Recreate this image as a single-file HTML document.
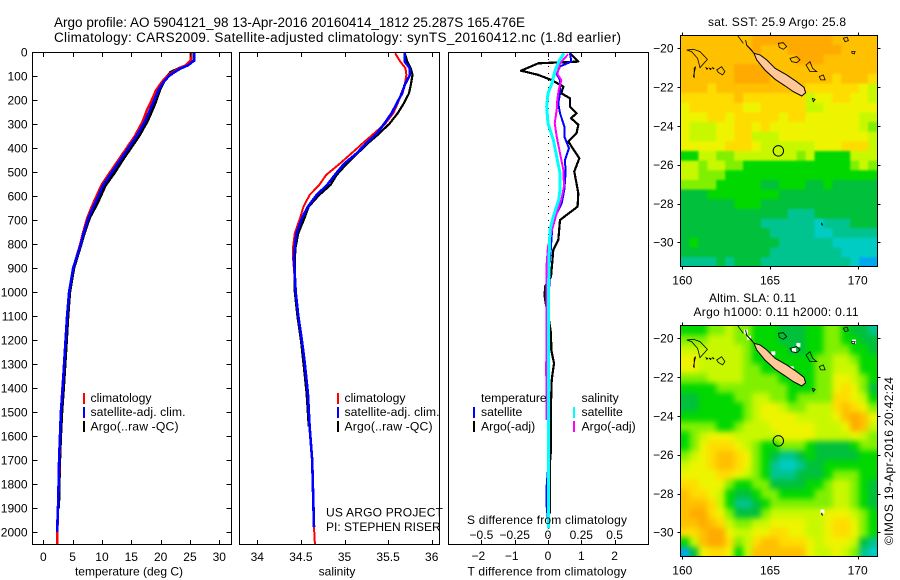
<!DOCTYPE html>
<html lang="en">
<head>
<meta charset="utf-8">
<title>Argo profile 5904121_98</title>
<style>
html,body{margin:0;padding:0;background:#fff}
svg{display:block}
text{font-family:"Liberation Sans",sans-serif;font-size:12px;fill:#000}
.frame{fill:none;stroke:#000;stroke-width:1;shape-rendering:crispEdges}
.ttl{font-size:13.5px}
.leg{font-size:12.2px}
</style>
</head>
<body>
<svg id="chart" xmlns="http://www.w3.org/2000/svg" width="900" height="580" viewBox="0 0 900 580">
<defs>
<filter id="sstBlur" x="-10%" y="-10%" width="120%" height="120%" color-interpolation-filters="sRGB"><feGaussianBlur stdDeviation="1.1"/></filter>
<filter id="slaBlur" x="-10%" y="-10%" width="120%" height="120%" color-interpolation-filters="sRGB"><feGaussianBlur stdDeviation="2.8"/></filter>
<clipPath id="clipMap1"><rect x="680.5" y="35.5" width="197" height="231"/></clipPath>
<clipPath id="clipMap2"><rect x="680.5" y="325.5" width="197" height="231"/></clipPath>
<clipPath id="clipT"><rect x="32.5" y="52" width="199" height="493"/></clipPath>
<clipPath id="clipS"><rect x="239.5" y="52" width="200" height="493"/></clipPath>
<clipPath id="clipD"><rect x="448.5" y="52" width="200" height="493"/></clipPath>
</defs>

<text class="ttl" x="54" y="27" textLength="471" lengthAdjust="spacing">Argo profile: AO 5904121_98 13-Apr-2016 20160414_1812 25.287S 165.476E</text>
<text class="ttl" x="54" y="42" textLength="567" lengthAdjust="spacing">Climatology: CARS2009. Satellite-adjusted climatology: synTS_20160412.nc (1.8d earlier)</text>

<g id="panelT"></g>
<g id="panelS"></g>
<g id="panelD"></g>
<g id="map1"></g>
<g id="map2"></g>

<rect class="frame" x="32.5" y="52.5" width="199" height="492"/>
<rect class="frame" x="239.5" y="52.5" width="200" height="492"/>
<rect class="frame" x="448.5" y="52.5" width="200" height="492"/>
<rect class="frame" x="680.5" y="35.5" width="197" height="231"/>
<rect class="frame" x="680.5" y="325.5" width="197" height="231"/>

<text x="129" y="575.5" text-anchor="middle">temperature (deg C)</text>
<text x="337" y="575.5" text-anchor="middle">salinity</text>
<text x="547" y="575.5" text-anchor="middle" textLength="159" lengthAdjust="spacing">T difference from climatology</text>
<text x="547" y="524" text-anchor="middle" textLength="160" lengthAdjust="spacing">S difference from climatology</text>

<g>
<rect x="83" y="393" width="2" height="11" fill="#f00"/>
<text class="leg" x="90.5" y="402">climatology</text>
<rect x="83" y="407" width="2" height="11" fill="#00f"/>
<text class="leg" x="90.5" y="416" textLength="95" lengthAdjust="spacing">satellite-adj. clim.</text>
<rect x="83" y="421" width="2" height="11" fill="#000"/>
<text class="leg" x="90.5" y="430.5" textLength="88" lengthAdjust="spacing">Argo(..raw -QC)</text>
</g>
<g>
<rect x="337" y="393" width="2" height="11" fill="#f00"/>
<text class="leg" x="344.5" y="402">climatology</text>
<rect x="337" y="407" width="2" height="11" fill="#00f"/>
<text class="leg" x="344.5" y="416" textLength="95" lengthAdjust="spacing">satellite-adj. clim.</text>
<rect x="337" y="421" width="2" height="11" fill="#000"/>
<text class="leg" x="344.5" y="430.5" textLength="88" lengthAdjust="spacing">Argo(..raw -QC)</text>
</g>
<g>
<text class="leg" x="481" y="402">temperature</text>
<rect x="473" y="407" width="2" height="11" fill="#00f"/>
<text class="leg" x="481" y="416">satellite</text>
<rect x="473" y="421" width="2" height="11" fill="#000"/>
<text class="leg" x="481" y="430.5">Argo(-adj)</text>
<text class="leg" x="581.5" y="402">salinity</text>
<rect x="573" y="407" width="2" height="11" fill="#0ff"/>
<text class="leg" x="581.5" y="416">satellite</text>
<rect x="573" y="421" width="2" height="11" fill="#f0f"/>
<text class="leg" x="581.5" y="430.5">Argo(-adj)</text>
</g>

<text x="326" y="516.5" textLength="117" lengthAdjust="spacing">US ARGO PROJECT</text>
<text x="326" y="531">PI: STEPHEN RISER</text>

<text x="708" y="26" textLength="138" lengthAdjust="spacing">sat. SST: 25.9 Argo: 25.8</text>
<text x="709" y="302" textLength="87" lengthAdjust="spacing">Altim. SLA: 0.11</text>
<text x="693.5" y="316" textLength="165" lengthAdjust="spacing">Argo h1000: 0.11 h2000: 0.11</text>
<text transform="translate(893,545) rotate(-90)" textLength="168" lengthAdjust="spacing">©IMOS 19-Apr-2016 20:42:24</text>
</svg>

<script>
/* ---- temperature panel data ---- */
const depthTicks = [0,100,200,300,400,500,600,700,800,900,1000,1100,1200,1300,1400,1500,1600,1700,1800,1900,2000];
const tempTicks = [0,5,10,15,20,25,30];
const tempDepths = [0,35,55,70,85,100,125,160,210,240,290,350,400,450,500,555,630,690,760,800,900,1000,1100,1200,1300,1400,1500,1600,1700,1800,1900,2000,2050];
const tempClim = [25.1,25.1,24.3,23.0,22.0,21.1,20.2,19.2,18.3,17.7,16.9,15.6,14.2,12.8,11.4,9.9,8.5,7.5,6.7,6.3,5.1,4.4,4.05,3.8,3.55,3.25,3.0,2.85,2.75,2.65,2.5,2.4,2.4];
const tempSat = [25.7,25.7,24.7,23.3,22.3,21.4,20.5,19.6,18.75,18.2,17.3,15.9,14.5,13.1,11.7,10.2,8.8,7.7,6.8,6.4,5.1,4.4,4.05,3.8,3.55,3.3,3.0,2.85,2.7,2.6,2.5,2.35,null];
const tempArgo = [25.7,25.7,24.5,23.0,21.7,21.2,20.5,19.8,19.1,18.6,17.7,16.3,14.9,13.5,12.2,10.6,9.2,7.9,6.9,6.45,5.2,4.5,4.2,3.95,3.7,3.45,3.15,2.95,2.8,2.7,2.6,null,null];

/* ---- salinity panel data ---- */
const salTicks = [34,34.5,35,35.5,36];
const salDepths = [5,40,68,96,137,172,214,255,297,339,380,422,464,512,554,596,644,693,755,811,860,1000,1100,1200,1283,1422,1560,1700,1840,1980,2050];
const salClim = [35.58,35.64,35.70,35.71,35.69,35.65,35.61,35.56,35.47,35.34,35.21,35.08,34.95,34.79,34.71,34.60,34.53,34.49,34.43,34.41,34.41,34.44,34.47,34.51,34.54,34.58,34.60,34.63,34.64,34.65,34.66];
const salSat = [35.69,35.69,35.75,35.75,35.69,35.66,35.60,35.54,35.46,35.37,35.25,35.14,35.00,34.89,34.80,34.68,34.58,34.51,34.45,34.43,34.42,34.44,34.47,34.51,34.54,34.58,34.60,34.63,34.64,34.65,null];
const salArgo = [35.69,35.72,35.76,35.78,35.76,35.74,35.68,35.61,35.52,35.40,35.27,35.15,35.03,34.91,34.84,34.71,34.59,34.54,34.47,34.44,34.43,34.43,34.46,34.50,34.525,34.565,34.59,null,null,null,null];

/* ---- difference panel data ---- */
const tDiffTicks = [-2,-1,0,1,2];
const sDiffTicks = [-0.5,-0.25,0,0.25,0.5];
const tArgoDepths = [5,40,47,78,95,117,144,172,193,228,255,276,303,338,373,443,498,588,644,700,783,825,936,977,1019,1054,1090,1172,1242,1297,1367,1464,1658,1707,1922];
const tArgoDiff = [0.66,0.91,-0.29,-0.81,-0.3,0.11,0.46,0.40,0.66,0.66,0.86,0.69,0.91,0.86,0.61,0.94,0.79,0.91,0.89,0.36,0.31,0.16,0.09,-0.09,-0.10,-0.06,0,0.09,0.1,0.18,0.11,0.09,0.09,0.06,0.05];
const tSatDepths = [5,40,60,92,117,172,214,255,310,352,401,450,505,574,630,672,727,811,880,1100,1700,1804,1894,1985];
const tSatDiff = [0.66,0.7,0.36,0.26,0.36,0.36,0.31,0.36,0.49,0.49,0.63,0.51,0.53,0.49,0.41,0.26,0.13,0.09,0.05,0.02,0.02,-0.04,-0.04,0.02];
const sArgoDepths = [10,47,92,117,158,200,241,297,352,422,491,560,616,672,741,811,880,1019,1117,1228,1325,1394,1533];
const sArgoDiff = [0.15,0.09,0.07,0.10,0.08,0.07,0.065,0.05,0.065,0.09,0.115,0.12,0.10,0.065,0.03,0,-0.01,-0.01,-0.01,-0.01,-0.015,-0.01,-0.01];
const sSatDepths = [5,40,82,130,172,228,297,366,436,505,574,616,686,741,880,1100,1985];
const sSatDiff = [0.12,0.08,0.05,0.03,0,-0.01,0,0.04,0.065,0.09,0.09,0.08,0.04,0.015,0.007,0.003,0.003];

/* ---- map data ---- */
const lonTicks = [160,165,170];
const latTicks = [-20,-22,-24,-26,-28,-30];
const floatLon = 165.476;
const floatLat = -25.287;
/* colour levels, one row per half degree of latitude from north to south */
const levelColors = ['#00a8f0','#00ccc4','#00c490','#00c03c','#00d800','#80f000','#c8f800','#eef400','#ffdc00','#ffc000','#ffaa00'];
const sstLevels = [
[9,9,9,9,9,9,9,9,10,10,10,10,10,10,10,10,10,9,9,9,9,9],
[9,9,9,9,9,9,9,9,10,9,9,9,10,10,10,10,10,10,9,9,9,9],
[9,9,9,9,9,9,9,9,9,9,9,9,9,10,10,10,9,9,9,9,9,9],
[9,9,9,9,9,9,10,10,10,10,9,9,9,9,9,9,9,9,9,9,9,9],
[9,9,9,9,9,9,10,10,10,10,9,9,9,9,9,9,9,8,9,9,9,8],
[9,9,9,8,9,9,9,9,9,9,9,9,9,9,8,8,8,8,8,8,7,6],
[8,8,8,8,8,8,9,8,8,8,8,8,8,8,6,7,7,8,8,7,7,6],
[7,8,8,8,8,8,8,7,7,8,8,8,8,8,6,6,7,7,7,7,7,7],
[7,7,7,8,8,7,8,8,8,8,8,7,8,8,7,7,7,7,7,7,6,6],
[7,6,6,6,7,7,8,8,7,8,7,7,7,7,7,7,7,7,7,7,6,5],
[7,6,6,6,7,7,8,8,6,6,6,7,7,7,7,7,7,7,7,7,7,6],
[7,7,7,7,7,8,8,8,7,6,6,6,6,6,6,7,7,7,8,8,8,6],
[4,4,6,6,5,5,6,6,6,6,6,6,6,5,6,4,4,4,4,6,6,6],
[6,6,5,6,6,5,5,4,4,4,4,4,4,4,4,4,4,4,4,5,6,5],
[6,6,5,5,5,4,4,4,4,4,4,4,4,4,4,4,4,4,4,4,4,4],
[5,5,5,5,4,4,4,4,4,3,3,4,4,4,3,3,4,3,3,3,3,3],
[3,3,3,4,4,4,4,4,4,4,4,3,3,3,3,3,3,3,3,3,3,3],
[3,3,3,3,3,3,4,4,4,3,3,3,3,3,3,3,3,3,3,3,3,3],
[3,3,3,3,3,3,3,3,3,3,3,3,2,2,2,3,3,3,3,3,3,3],
[3,3,3,3,3,3,3,3,3,2,2,2,2,2,2,1,2,2,2,3,3,3],
[3,3,3,3,3,3,3,3,3,3,2,2,2,2,2,1,1,2,2,2,2,2],
[3,4,3,3,3,3,3,3,3,3,3,2,2,2,2,2,2,1,1,1,1,1],
[3,3,3,3,3,3,3,3,3,3,2,2,2,2,2,2,2,2,1,1,1,1],
[2,2,2,2,3,2,3,3,3,2,2,2,2,2,2,2,2,2,2,1,0,0]
];
const slaLevels = [
[4,4,4,5,5,6,5,5,4,4,4,3,3,3,4,4,5,5,4,3,3,2],
[5,5,5,6,6,6,5,5,4,4,4,3,3,3,4,4,5,5,4,4,3,3],
[6,6,6,6,6,6,6,5,4,4,4,4,3,3,4,4,5,5,5,4,4,3],
[7,7,6,6,6,6,6,5,4,4,4,4,4,4,4,5,5,6,6,5,4,4],
[7,7,6,6,6,6,6,5,5,4,4,4,4,4,4,5,5,6,6,6,4,4],
[5,5,5,6,6,6,6,5,5,5,5,4,4,4,4,5,5,7,7,6,5,4],
[4,4,4,4,5,5,5,5,5,5,5,5,4,4,4,5,5,7,8,7,5,3],
[3,3,4,4,4,4,5,5,6,6,5,5,4,5,5,5,5,8,8,7,6,4],
[3,3,4,4,4,4,4,5,6,7,7,6,5,5,6,6,6,8,9,8,7,5],
[4,4,4,4,4,4,4,5,6,7,7,7,7,6,6,6,6,7,9,10,9,7],
[5,5,5,5,4,4,5,6,6,6,7,7,7,7,7,6,6,6,7,10,9,6],
[4,5,6,7,7,7,6,6,6,6,6,7,7,7,7,6,6,6,6,7,6,5],
[4,5,7,8,8,8,7,6,5,4,4,5,5,5,4,3,3,3,3,4,5,5],
[5,6,7,8,9,9,8,7,5,4,3,2,2,3,4,3,3,3,3,3,4,4],
[6,7,7,8,9,9,8,7,5,4,2,1,1,2,3,3,4,4,4,4,4,4],
[7,7,7,7,8,8,7,6,5,4,2,2,2,3,3,3,4,5,5,5,4,4],
[8,8,7,7,7,5,4,4,5,5,3,3,3,3,4,4,5,6,6,5,4,3],
[9,8,8,7,6,4,3,3,4,5,5,4,4,4,4,5,5,6,6,5,4,3],
[9,9,9,8,6,4,2,2,3,4,5,5,5,5,5,5,5,6,6,5,4,3],
[9,10,10,8,7,5,3,3,3,5,6,6,6,6,6,6,7,7,7,6,5,4],
[9,9,10,9,8,6,5,5,6,6,7,7,7,7,6,6,7,8,8,7,5,4],
[8,8,9,10,10,7,6,6,7,7,8,8,7,7,6,6,7,8,8,7,5,4],
[4,6,9,10,10,8,5,6,8,9,9,8,8,8,7,6,7,7,7,6,3,2],
[0,3,7,8,8,7,4,6,9,9,9,9,9,9,7,6,6,7,6,5,2,1]
];
const mainIslandLon = [164.09,164.43,164.81,165.29,165.95,166.52,166.94,167.03,166.81,166.33,165.86,165.29,164.71,164.24];
const mainIslandLat = [-20.26,-20.34,-20.60,-21.03,-21.37,-21.72,-22.01,-22.29,-22.46,-22.23,-21.94,-21.60,-21.12,-20.60];
const outlineLons = [
[160.25,160.63,161.01,161.43,161.01,160.87,160.53],
[160.68,160.76,160.63,160.68],
[161.96,162.24,162.43,162.30,162.05],
[165.48,165.76,165.95,165.76,165.53],
[166.14,166.52,166.71,166.52,166.24],
[167.05,167.28,167.43,167.66,167.28],
[167.81,168.04,168.14,167.89],
[169.18,169.40,169.47,169.28],
[169.66,169.85,169.80,169.68],
[167.41,167.57,167.47],
[163.14,163.48,163.48],
[163.61,163.67,163.95,164.09,163.95,163.67],
[167.95,167.99,167.95],
[161.35,161.45,161.40],
[161.55,161.65,161.60],
[161.72,161.80,161.76]
];
const outlineLats = [
[-20.09,-20.05,-20.17,-20.57,-21.00,-20.52,-20.17],
[-21.03,-20.95,-21.46,-21.50],
[-21.12,-20.95,-21.20,-21.37,-21.25],
[-19.74,-19.71,-19.91,-20.05,-19.95],
[-20.52,-20.43,-20.60,-20.74,-20.69],
[-20.86,-20.69,-21.03,-21.20,-21.20],
[-21.46,-21.37,-21.63,-21.63],
[-19.48,-19.43,-19.60,-19.66],
[-20.17,-20.17,-20.29,-20.26],
[-22.58,-22.63,-22.75],
[-19.33,-19.74,-19.74],
[-19.57,-19.83,-20.09,-20.26,-20.12,-19.85],
[-28.99,-29.11,-29.08],
[-21.00,-21.04,-21.08],
[-21.03,-21.06,-21.10],
[-21.00,-21.03,-21.06]
];
const missingLons = [163.63,163.80,166.62,166.37,169.79,167.99,165.19,165.61,166.24];
const missingLats = [-19.66,-19.97,-20.34,-20.60,-20.17,-28.93,-20.77,-21.38,-21.55];

/* ---- axis functions ---- */
const depthY = d => 52 + d * 0.24;
const tempX = t => 43.3 + t * 5.867;
const salX = s => 257.3 + (s - 34) * 87.2;
const tDiffX = v => 548 + v * 33.3;
const sDiffX = v => 548 + v * 133.2;
const lonX = lon => 682.3 + (lon - 160) * 17.54;
const latY = lat => 48.3 + (-20 - lat) * 19.4;

const NS = 'http://www.w3.org/2000/svg';
function make(tag, attrs, parent) {
  const el = document.createElementNS(NS, tag);
  for (const k in attrs) el.setAttribute(k, attrs[k]);
  parent.appendChild(el);
  return el;
}
function tickLine(parent, x1, y1, x2, y2, name) {
  const el = make('line', {x1, y1, x2, y2, stroke: '#000', 'stroke-width': 1, 'shape-rendering': 'crispEdges'}, parent);
  
  
}
function label(parent, x, y, str, anchor, name) {
  const el = make('text', {x, y, 'text-anchor': anchor}, parent);
  el.textContent = str;
  
  
}
function profile(parent, depths, values, xf, color, width, name, clip) {
  const pts = [];
  depths.forEach((d, i) => {
    if (values[i] !== null) pts.push(xf(values[i]).toFixed(1) + ',' + depthY(d).toFixed(1));
  });
  const el = make('polyline', {points: pts.join(' '), fill: 'none', stroke: color, 'stroke-width': width, 'stroke-linejoin': 'round', 'shape-rendering': 'crispEdges', 'clip-path': 'url(#' + clip + ')'}, parent);
  
  
}
const fmtNeg = v => String(v).replace('-', '\u2212');

/* ---- temperature panel ---- */
const panelT = document.getElementById('panelT');
profile(panelT, tempDepths, tempArgo, tempX, '#000', 3, 'temperature-argo-line', 'clipT');
profile(panelT, tempDepths, tempClim, tempX, '#f00', 2.4, 'temperature-climatology-line', 'clipT');
profile(panelT, tempDepths, tempSat, tempX, '#00f', 2.6, 'temperature-satellite-line', 'clipT');
depthTicks.forEach(d => {
  const y = Math.round(depthY(d)) + 0.5;
  if (d > 0) {
    tickLine(panelT, 32.5, y, 37.5, y, 'depth-tick-left');
    tickLine(panelT, 226.5, y, 231.5, y, 'depth-tick-right');
  }
  label(panelT, 27.5, depthY(d) + 4.4, String(d), 'end', 'depth-tick-label');
});
tempTicks.forEach(t => {
  const x = Math.round(tempX(t)) + 0.5;
  tickLine(panelT, x, 52.5, x, 57, 'temperature-top-tick');
  tickLine(panelT, x, 540, x, 544.5, 'temperature-bottom-tick');
  label(panelT, tempX(t), 561, String(t), 'middle', 'temperature-tick-label');
});

/* ---- salinity panel ---- */
const panelS = document.getElementById('panelS');
profile(panelS, salDepths, salArgo, salX, '#000', 2.2, 'salinity-argo-line', 'clipS');
profile(panelS, salDepths, salClim, salX, '#f00', 2, 'salinity-climatology-line', 'clipS');
profile(panelS, salDepths, salSat, salX, '#00f', 2.6, 'salinity-satellite-line', 'clipS');
salTicks.forEach(s => {
  const x = Math.round(salX(s)) + 0.5;
  tickLine(panelS, x, 52.5, x, 57, 'salinity-top-tick');
  tickLine(panelS, x, 540, x, 544.5, 'salinity-bottom-tick');
  label(panelS, salX(s), 561, String(s), 'middle', 'salinity-tick-label');
});

/* ---- difference panel ---- */
const panelD = document.getElementById('panelD');
const zeroLine = make('line', {x1: 548.5, y1: 52, x2: 548.5, y2: 545, stroke: '#000', 'stroke-width': 1, 'stroke-dasharray': '1 6', 'shape-rendering': 'crispEdges'}, panelD);


profile(panelD, tArgoDepths, tArgoDiff, tDiffX, '#000', 2.2, 't-argo-difference-line', 'clipD');
profile(panelD, tSatDepths, tSatDiff, tDiffX, '#00f', 2, 't-satellite-difference-line', 'clipD');
profile(panelD, sArgoDepths, sArgoDiff, sDiffX, '#f0f', 2, 's-argo-difference-line', 'clipD');
profile(panelD, sSatDepths, sSatDiff, sDiffX, '#0ff', 3, 's-satellite-difference-line', 'clipD');
tDiffTicks.forEach(v => {
  const x = Math.round(tDiffX(v)) + 0.5;
  tickLine(panelD, x, 52.5, x, 57, 't-difference-top-tick');
  tickLine(panelD, x, 540, x, 544.5, 't-difference-bottom-tick');
  label(panelD, tDiffX(v) - (v < 0 ? 3 : 0), 560, fmtNeg(v), 'middle', 't-difference-tick-label');
});
sDiffTicks.forEach(v => {
  label(panelD, sDiffX(v), 539, fmtNeg(v), 'middle', 's-difference-tick-label');
});

/* ---- maps ---- */
function drawMap(root, levels, offset, clipId, blurId, isSla) {
  const clipG = make('g', {'clip-path': 'url(#' + clipId + ')'}, root);
  
  
  const cellG = make('g', {filter: 'url(#' + blurId + ')'}, clipG);
  
  
  const dLon = 11.2 / 22, dLat = 11.93 / 24;
  levels.forEach((row, r) => {
    row.forEach((lv, c) => {
      let x0 = lonX(159.9 + c * dLon), x1 = lonX(159.9 + (c + 1) * dLon);
      let y0 = latY(-19.33 - r * dLat) + offset, y1 = latY(-19.33 - (r + 1) * dLat) + offset;
      if (c === 0) x0 -= 14;
      if (c === row.length - 1) x1 += 14;
      if (r === 0) y0 -= 14;
      if (r === levels.length - 1) y1 += 14;
      const cell = make('rect', {x: x0, y: y0, width: x1 - x0 + 0.5, height: y1 - y0 + 0.5, fill: levelColors[lv]}, cellG);
      
      
    });
  });
  const overlay = make('g', {transform: 'translate(0,' + offset + ')'}, clipG);
  
  
  if (isSla) {
    missingLons.forEach((lon, i) => {
      const gap = make('rect', {x: lonX(lon) - 2, y: latY(missingLats[i]) - 2, width: 4, height: 4, fill: '#fff'}, overlay);
      
      
    });
  }
  outlineLons.forEach((lons, i) => {
    const pts = lons.map((lon, j) => lonX(lon).toFixed(1) + ',' + latY(outlineLats[i][j]).toFixed(1)).join(' ');
    const coast = make('polygon', {points: pts, fill: 'none', stroke: '#000', 'stroke-width': 0.8}, overlay);
    
    
  });
  const mainPts = mainIslandLon.map((lon, j) => lonX(lon).toFixed(1) + ',' + latY(mainIslandLat[j]).toFixed(1)).join(' ');
  const island = make('polygon', {points: mainPts, fill: '#ffc896', stroke: '#000', 'stroke-width': 1}, overlay);
  
  
  const marker = make('circle', {cx: lonX(floatLon), cy: latY(floatLat), r: 5.2, fill: 'none', stroke: '#000', 'stroke-width': 1}, overlay);
  
  

  lonTicks.forEach(lon => {
    const x = Math.round(lonX(lon)) + 0.5;
    tickLine(root, x, 32.5 + offset, x, 35.5 + offset, 'longitude-top-tick');
    tickLine(root, x, 266.5 + offset, x, 269.5 + offset, 'longitude-bottom-tick');
    label(root, lonX(lon), 284.5 + offset, String(lon), 'middle', 'longitude-tick-label');
  });
  latTicks.forEach(lat => {
    const y = Math.round(latY(lat)) + 0.5 + offset;
    tickLine(root, 677.5, y, 680.5, y, 'latitude-left-tick');
    tickLine(root, 877.5, y, 880.5, y, 'latitude-right-tick');
    label(root, 673.5, latY(lat) + offset + 4.4, fmtNeg(lat), 'end', 'latitude-tick-label');
  });
}
drawMap(document.getElementById('map1'), sstLevels, 0, 'clipMap1', 'sstBlur', false);
drawMap(document.getElementById('map2'), slaLevels, 290, 'clipMap2', 'slaBlur', true);
</script>
</body>
</html>
